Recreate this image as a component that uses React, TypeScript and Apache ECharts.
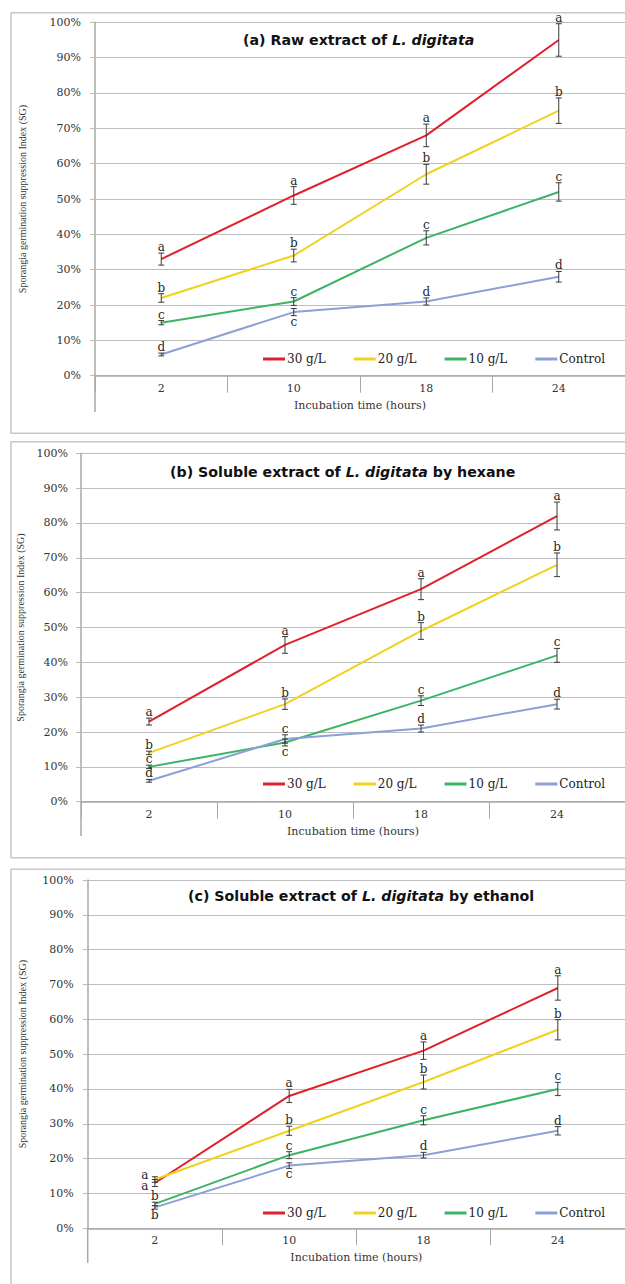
import React, { useEffect, useRef } from 'react';
import * as echarts from 'echarts';

const categories = ['2', '10', '18', '24'];
const seriesNames = ['30 g/L', '20 g/L', '10 g/L', 'Control'];
const lineColors = ['#e0202a', '#f0d21e', '#3cb464', '#8ca0d7'];

// Panel (a) raw extract
const rawA30 = [33, 51, 68, 95];
const rawA20 = [22, 34, 57, 75];
const rawA10 = [15, 21, 39, 52];
const rawACtrl = [6, 18, 21, 28];
const errA30 = [1.7, 2.5, 3.2, 4.6];
const errA20 = [1.2, 1.8, 2.8, 3.6];
const errA10 = [0.6, 1.1, 2, 2.6];
const errACtrl = [0.4, 1, 1, 1.5];
const letA30 = ['a', 'a', 'a', 'a'];
const letA20 = ['b', 'b', 'b', 'b'];
const letA10 = ['c', 'c', 'c', 'c'];
const letACtrl = ['d', 'c', 'd', 'd'];

// Panel (b) hexane
const hexB30 = [23, 45, 61, 82];
const hexB20 = [14, 28, 49, 68];
const hexB10 = [10, 17, 29, 42];
const hexBCtrl = [6, 18, 21, 28];
const errB30 = [1, 2.4, 3, 4];
const errB20 = [0.5, 1.5, 2.4, 3.4];
const errB10 = [0.5, 1, 1.4, 2];
const errBCtrl = [0.4, 1.2, 1, 1.4];
const letB30 = ['a', 'a', 'a', 'a'];
const letB20 = ['b', 'b', 'b', 'b'];
const letB10 = ['c', 'c', 'c', 'c'];
const letBCtrl = ['d', 'c', 'd', 'd'];

// Panel (c) ethanol
const ethC30 = [13, 38, 51, 69];
const ethC20 = [14, 28, 42, 57];
const ethC10 = [7, 21, 31, 40];
const ethCCtrl = [6, 18, 21, 28];
const errC30 = [1, 1.9, 2.5, 3.5];
const errC20 = [0.8, 1.3, 2, 2.9];
const errC10 = [0.5, 1, 1.3, 1.9];
const errCCtrl = [0.5, 0.8, 0.8, 1.2];
const letC30 = ['a', 'a', 'a', 'a'];
const letC20 = ['a', 'b', 'b', 'b'];
const letC10 = ['b', 'c', 'c', 'c'];
const letCCtrl = ['b', 'c', 'd', 'd'];

// letter placement codes
const T = 'top', B = 'bottom', UL = 'upleft', DL = 'downleft';

const yAxisName = 'Sporangia germination suppression Index (SG)';
const xAxisName = 'Incubation time (hours)';

const panels = [
  {
    title: ['(a) Raw extract of ', 'L. digitata', ''],
    values: [rawA30, rawA20, rawA10, rawACtrl],
    errors: [errA30, errA20, errA10, errACtrl],
    letters: [letA30, letA20, letA10, letACtrl],
    pos: [[T, T, T, T], [T, T, T, T], [T, T, T, T], [T, B, T, T]],
    grid: { left: 95, top: 22.3, width: 530, height: 353.4 },
    titlePos: { left: 243, top: 33 },
    legendTop: 353,
    nameGap: 68,
    labelMargin: 14,
    frame: { y: 12.7, h: 420.5 },
    leftLineEnd: 412,
  },
  {
    title: ['(b) Soluble extract of ', 'L. digitata', ' by hexane'],
    values: [hexB30, hexB20, hexB10, hexBCtrl],
    errors: [errB30, errB20, errB10, errBCtrl],
    letters: [letB30, letB20, letB10, letBCtrl],
    pos: [[T, T, T, T], [T, T, T, T], [T, B, T, T], [T, T, T, T]],
    grid: { left: 81, top: 453.3, width: 548, height: 348.4 },
    titlePos: { left: 170, top: 464.5 },
    legendTop: 778,
    nameGap: 54,
    labelMargin: 13,
    frame: { y: 441.7, h: 416 },
    leftLineEnd: 836,
  },
  {
    title: ['(c) Soluble extract of ', 'L. digitata', ' by ethanol'],
    values: [ethC30, ethC20, ethC10, ethCCtrl],
    errors: [errC30, errC20, errC10, errCCtrl],
    letters: [letC30, letC20, letC10, letCCtrl],
    pos: [[DL, T, T, T], [UL, T, T, T], [T, T, T, T], [B, B, T, T]],
    grid: { left: 87.7, top: 880, width: 548, height: 348.3 },
    titlePos: { left: 188, top: 889 },
    legendTop: 1207,
    nameGap: 60,
    labelMargin: 14,
    frame: { y: 869.3, h: 500 },
    leftLineEnd: 1263,
  },
];

const SERIF_W = '"DejaVu Serif", serif';

function makeErrRender(letters: string[], pos: string[]) {
  return (params: any, api: any) => {
    const i = api.value(0);
    const v = api.value(1);
    const e = api.value(2);
    const p = api.coord([i, v]);
    const t = api.coord([i, v + e]);
    const b = api.coord([i, v - e]);
    const x = p[0];
    const cap = 3;
    const ls = { stroke: '#3a3a3a', lineWidth: 1 };
    const children: any[] = [
      { type: 'line', shape: { x1: x, y1: t[1], x2: x, y2: b[1] }, style: ls },
      { type: 'line', shape: { x1: x - cap, y1: t[1], x2: x + cap, y2: t[1] }, style: ls },
      { type: 'line', shape: { x1: x - cap, y1: b[1], x2: x + cap, y2: b[1] }, style: ls },
    ];
    const ps = pos[params.dataIndex];
    let tx = x;
    let ty = t[1];
    let va = 'bottom';
    if (ps === 'bottom') {
      ty = b[1];
      va = 'top';
    } else if (ps === 'upleft') {
      tx = x - 10;
      ty = p[1] - 5;
      va = 'middle';
    } else if (ps === 'downleft') {
      tx = x - 10;
      ty = p[1] + 3;
      va = 'middle';
    }
    children.push({
      type: 'text',
      style: {
        text: letters[params.dataIndex],
        x: tx,
        y: ty,
        align: 'center',
        verticalAlign: va,
        textAlign: 'center',
        textVerticalAlign: va,
        font: '12px "DejaVu Serif", serif',
        fontSize: 12,
        fontFamily: '"DejaVu Serif", serif',
        fill: '#262626',
      },
    });
    return { type: 'group', children };
  };
}

function buildOption() {
  const grid: any[] = [];
  const xAxis: any[] = [];
  const yAxis: any[] = [];
  const series: any[] = [];
  const title: any[] = [];
  const legend: any[] = [];
  const graphic: any[] = [];

  panels.forEach((pn, k) => {
    grid.push({ ...pn.grid, containLabel: false });
    xAxis.push({
      type: 'category',
      gridIndex: k,
      data: categories,
      boundaryGap: true,
      axisLine: { show: true, lineStyle: { color: '#a8a8a8', width: 1.5 } },
      axisTick: { show: true, length: 17, lineStyle: { color: '#a8a8a8', width: 1 } },
      axisLabel: { margin: 7, fontFamily: SERIF_W, fontSize: 11, color: '#333' },
      name: xAxisName,
      nameLocation: 'middle',
      nameGap: 24,
      nameTextStyle: { fontFamily: SERIF_W, fontSize: 11, color: '#333' },
      splitLine: { show: false },
    });
    yAxis.push({
      type: 'value',
      gridIndex: k,
      min: 0,
      max: 100,
      interval: 10,
      axisLine: { show: true, lineStyle: { color: '#a8a8a8', width: 1.5 } },
      axisTick: { show: true, length: 5, lineStyle: { color: '#bdbdbd' } },
      axisLabel: {
        margin: pn.labelMargin,
        formatter: '{value}%',
        fontFamily: SERIF_W,
        fontSize: 11,
        color: '#333',
      },
      splitLine: { show: true, lineStyle: { color: '#bdbdbd', width: 1.2 } },
      name: yAxisName,
      nameLocation: 'middle',
      nameGap: pn.nameGap,
      nameTextStyle: { fontFamily: '"Liberation Serif", serif', fontSize: 10, color: '#333' },
    });
    pn.values.forEach((vals, s) => {
      series.push({
        type: 'line',
        name: seriesNames[s],
        xAxisIndex: k,
        yAxisIndex: k,
        data: vals,
        symbol: 'none',
        lineStyle: { color: lineColors[s], width: 2 },
        itemStyle: { color: lineColors[s] },
        z: 2,
      });
    });
    pn.values.forEach((vals, s) => {
      series.push({
        type: 'custom',
        name: 'err-' + k + '-' + s,
        xAxisIndex: k,
        yAxisIndex: k,
        data: vals.map((v, i) => [i, v, pn.errors[s][i]]),
        encode: { x: 0, y: 1 },
        renderItem: makeErrRender(pn.letters[s], pn.pos[s]),
        z: 3,
        silent: true,
      });
    });
    title.push({
      text: '{n|' + pn.title[0] + '}{i|' + pn.title[1] + '}' + (pn.title[2] ? '{n|' + pn.title[2] + '}' : ''),
      left: pn.titlePos.left,
      top: pn.titlePos.top,
      padding: 0,
      textStyle: {
        rich: {
          n: { fontFamily: '"DejaVu Sans"', fontWeight: 'bold', fontSize: 14.2, color: '#111' },
          i: { fontFamily: '"DejaVu Sans"', fontWeight: 'bold', fontStyle: 'italic', fontSize: 14.2, color: '#111' },
        },
      },
    });
    legend.push({
      data: seriesNames,
      left: 263,
      top: pn.legendTop,
      padding: 0,
      itemGap: 28,
      itemWidth: 22,
      itemHeight: 3,
      icon: 'rect',
      textStyle: { fontFamily: SERIF_W, fontSize: 12, color: '#222', padding: [0, 0, 0, -3] },
    });
    graphic.push({
      type: 'rect',
      shape: { x: 11, y: pn.frame.y, width: 700, height: pn.frame.h },
      style: { fill: 'none', stroke: '#c8c8c8', lineWidth: 1.5 },
      z: 0,
    });
    const axisBottom = pn.grid.top + pn.grid.height;
    graphic.push({
      type: 'line',
      shape: { x1: pn.grid.left, y1: axisBottom, x2: pn.grid.left, y2: pn.leftLineEnd },
      style: { stroke: '#a8a8a8', lineWidth: 1.5 },
      z: 1,
    });
  });

  return {
    animation: false,
    backgroundColor: '#ffffff',
    title,
    legend,
    grid,
    xAxis,
    yAxis,
    series,
    graphic,
  };
}

export default function App() {
  const ref = useRef<HTMLDivElement>(null);
  useEffect(() => {
    if (!ref.current) return;
    const chart = echarts.init(ref.current, undefined, { renderer: 'svg' });
    chart.setOption(buildOption() as any);
    return () => chart.dispose();
  }, []);
  return (
    <div
      ref={ref}
      style={{ position: 'absolute', left: 0, top: 0, width: 625, height: 1284, background: '#fff' }}
    />
  );
}
